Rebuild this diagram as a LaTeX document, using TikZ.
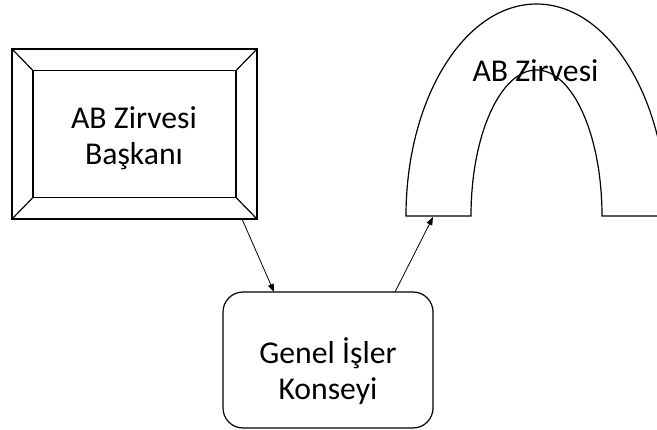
\documentclass[tikz,border=0pt]{standalone}
\usepackage{fontspec}
\setmainfont{Carlito}
\usetikzlibrary{arrows.meta}

\begin{document}
\begin{tikzpicture}[x=0.75pt, y=0.75pt, line width=0.9pt,
  box/.style={draw, minimum width=#1, inner sep=0pt},
  txt/.style={align=center, font=\fontsize{23.8}{27}\selectfont},
  arr/.style={-{Triangle[length=6pt,width=4.5pt]}, line width=0.6pt}]

  \useasboundingbox (0,0) rectangle (657,429);
  \clip (0,0) rectangle (657,429);

  % AB Zirvesi Baskani
  \node[box=245*0.75pt, minimum height=170*0.75pt] (Bo) at (134.5,295) {};
  \node[box=203*0.75pt, minimum height=127*0.75pt] (Bi) at (134.5,295) {};
  \foreach \c in {north west, north east, south west, south east}
    \draw (Bo.\c) -- (Bi.\c);
  \node[txt] (B) at (134,291) {AB Zirvesi\\Başkanı};

  % Genel Isler Konseyi
  \node[box=210*0.75pt, minimum height=136*0.75pt, rounded corners=15pt] (K) at (328,69) {};
  \node[txt] (Kt) at (328,58) {Genel İşler\\Konseyi};

  % AB Zirvesi
  \draw (406,213) arc[start angle=180, end angle=0, x radius=130.5, y radius=212]
    -- (602,213) arc[start angle=0, end angle=180, x radius=65.5, y radius=146]
    -- cycle;
  \node[txt, anchor=base] (Z) at (535.5,347) {AB Zirvesi};

  \coordinate (Bs) at (242,210);
  \coordinate (Kn1) at (274,137);
  \coordinate (Kn2) at (395,137);
  \coordinate (Zs) at (433,212);

  \draw[arr] (Bs) -- (Kn1);
  \draw[arr] (Kn2) -- (Zs);

\end{tikzpicture}
\end{document}
